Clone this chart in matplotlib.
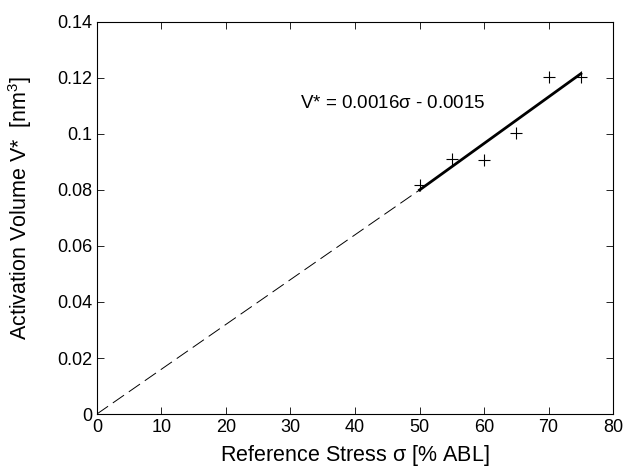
import numpy as np
import matplotlib.pyplot as plt

plt.rcParams['font.family'] = ['Liberation Sans', 'DejaVu Sans']
plt.rcParams['mathtext.fontset'] = 'custom'
plt.rcParams['mathtext.rm'] = 'Liberation Sans'
plt.rcParams['mathtext.it'] = 'Liberation Sans'

# measured points
stress = [50, 55, 60, 65, 70, 75]
volume = [0.0817, 0.0910, 0.0907, 0.1005, 0.1203, 0.1203]

xticks = [0, 10, 20, 30, 40, 50, 60, 70, 80]
yticks = [0, 0.02, 0.04, 0.06, 0.08, 0.1, 0.12, 0.14]

# linear fit through the points
slope, icpt = np.polyfit(stress, volume, 1)

fig = plt.figure(figsize=(6.25, 4.73), dpi=100)
ax = fig.add_axes([0.155, 0.1247, 0.826, 0.829])

# solid over data range
xs = np.array([stress[0], stress[-1]])
ax.plot(xs, slope * xs + icpt, color='black', lw=2)
# dashed extrapolation back to the origin
ax.plot([0, xs[0]], [0, slope * xs[0] + icpt], color='black', lw=0.7, dashes=(14, 6))

ax.plot(stress, volume, '+', color='black', ms=9, mew=0.8)

ax.text(31.5, 0.111, r'V* = 0.0016$\sigma$ - 0.0015', fontsize=13.5, va='center')

ax.set_xlim(0, 80)
ax.set_ylim(0, 0.14)
ax.set_xticks(xticks)
ax.set_yticks(yticks)
ax.set_yticklabels(['%g' % v for v in yticks])
ax.tick_params(direction='in', top=True, right=True, labelsize=13, length=5, width=0.6)
for s in ax.spines.values():
    s.set_linewidth(0.8)

ax.set_xlabel(r'Reference Stress $\sigma$ [% ABL]', fontsize=15.5, labelpad=5)
ax.set_ylabel(r'Activation Volume V*  [nm$^3$]', fontsize=15.5)
ax.yaxis.set_label_coords(-0.122, 0.526)

fig.savefig('out.png', dpi=100)
